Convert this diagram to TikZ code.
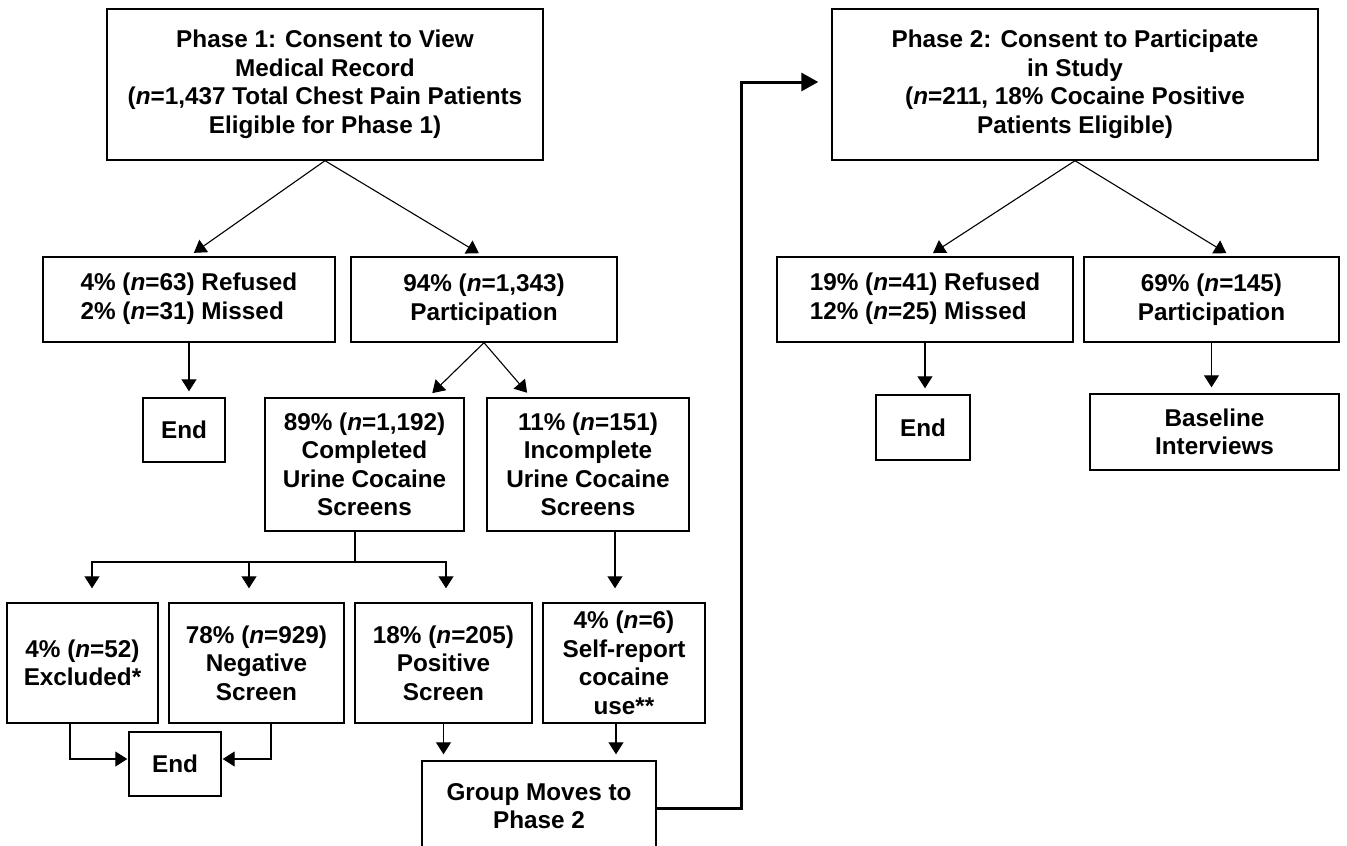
\documentclass[tikz,border=0pt]{standalone}
\usepackage{fontspec}
\setmainfont{Liberation Sans}
\usetikzlibrary{arrows.meta}
\begin{document}
\begin{tikzpicture}[x=1pt,y=1pt,
  box/.style={draw=black, line width=1.4pt, inner sep=0pt, align=center,
    font=\fontsize{24.3}{28.5}\selectfont\bfseries},
  arr/.style={line width=1.1pt, -{Triangle[length=12pt,width=15pt]}, shorten >=6pt},
  ln/.style={line width=1.1pt},
  bigarr/.style={line width=3pt, -{Triangle[length=17pt,width=18pt]}, shorten >=13pt}]
\useasboundingbox (0,0) rectangle (1347,-846);
\newcommand{\nn}{\textit{n}}
% Phase 1 side
\node[box, minimum width=436, minimum height=151] (P1) at (325,-84.5)
  {Phase 1: Consent to View\\Medical Record\\(\nn=1,437 Total Chest Pain Patients\\Eligible for Phase 1)};
\node[box, minimum width=292, minimum height=85] (R1) at (189,-299.5)
  {\begin{tabular}{@{}l@{}}4\% (\nn=63) Refused\\2\% (\nn=31) Missed\end{tabular}};
\node[box, minimum width=266, minimum height=85] (Pa1) at (484,-299.5)
  {94\% (\nn=1,343)\\Participation};
\node[box, minimum width=82, minimum height=64] (E1) at (184,-430) {End};
\node[box, minimum width=199, minimum height=133] (Co) at (364.5,-464.5)
  {89\% (\nn=1,192)\\Completed\\Urine Cocaine\\Screens};
\node[box, minimum width=202, minimum height=133] (In) at (588,-464.5)
  {11\% (\nn=151)\\Incomplete\\Urine Cocaine\\Screens};
\node[box, minimum width=151, minimum height=120] (Ex) at (82.5,-663)
  {4\% (\nn=52)\\Excluded*};
\node[box, minimum width=175, minimum height=120] (Ne) at (256.5,-663)
  {78\% (\nn=929)\\Negative\\Screen};
\node[box, minimum width=177, minimum height=120] (Po) at (443.5,-663)
  {18\% (\nn=205)\\Positive\\Screen};
\node[box, minimum width=162, minimum height=120] (Se) at (624,-663)
  {4\% (\nn=6)\\Self-report\\cocaine\\use**};
\node[box, minimum width=92, minimum height=64] (E2) at (175,-764) {End};
\node[box, minimum width=234, minimum height=90] (Gr) at (539,-806)
  {Group Moves to\\Phase 2};
% Phase 2 side
\node[box, minimum width=486, minimum height=151] (P2) at (1075,-84.5)
  {Phase 2: Consent to Participate\\in Study\\(\nn=211, 18\% Cocaine Positive\\Patients Eligible)};
\node[box, minimum width=296, minimum height=85] (R2) at (925,-299.5)
  {\begin{tabular}{@{}l@{}}19\% (\nn=41) Refused\\12\% (\nn=25) Missed\end{tabular}};
\node[box, minimum width=255, minimum height=85] (Pa2) at (1211.5,-299.5)
  {69\% (\nn=145)\\Participation};
\node[box, minimum width=94, minimum height=65] (E3) at (923,-427.5) {End};
\node[box, minimum width=249, minimum height=76] (Ba) at (1214.5,-432)
  {Baseline\\Interviews};
% coordinates
\coordinate (cj) at (355,-562);
\coordinate (kx) at (741,-82);
% connectors phase 1
\draw[arr] (P1.south) -- (R1.north);
\draw[arr] (P1.south) -- (Pa1.north);
\draw[arr] (R1.south) -- (R1.south |- E1.north);
\draw[arr] (Pa1.south) -- ([xshift=63.5pt]Co.north);
\draw[arr] (Pa1.south) -- ([xshift=-57pt]In.north);
\draw[ln] ([xshift=-9.5pt]Co.south) -- (cj);
\draw[arr, shorten >=14pt] (cj) -| ([xshift=9.5pt]Ex.north);
\draw[arr, shorten >=14pt] (cj) -| ([xshift=2.5pt]Po.north);
\draw[arr, shorten >=14pt] ([xshift=-7.5pt]Ne.north |- cj) -- ([xshift=-7.5pt]Ne.north);
\draw[arr, shorten >=14pt] ([xshift=27pt]In.south) -- ([xshift=27pt]In.south |- Se.north);
\draw[arr] (Po.south) -- (Po.south |- Gr.north);
\draw[arr] ([xshift=-8pt]Se.south) -- ([xshift=-8pt]Se.south |- Gr.north);
\draw[arr, shorten >=1pt] ([xshift=-12.5pt]Ex.south) |- ([yshift=5pt]E2.west);
\draw[arr, shorten >=1pt] ([xshift=14.5pt]Ne.south) |- ([yshift=5pt]E2.east);
\draw[bigarr] ([yshift=-2pt]Gr.east) -| (kx) -- ([yshift=2.5pt]P2.west);
% connectors phase 2
\draw[arr] (P2.south) -- ([xshift=3pt]R2.north);
\draw[arr] (P2.south) -- ([xshift=20pt]Pa2.north);
\draw[arr] (R2.south) -- (R2.south |- E3.north);
\draw[arr] (Pa2.south) -- (Pa2.south |- Ba.north);
\end{tikzpicture}
\end{document}
